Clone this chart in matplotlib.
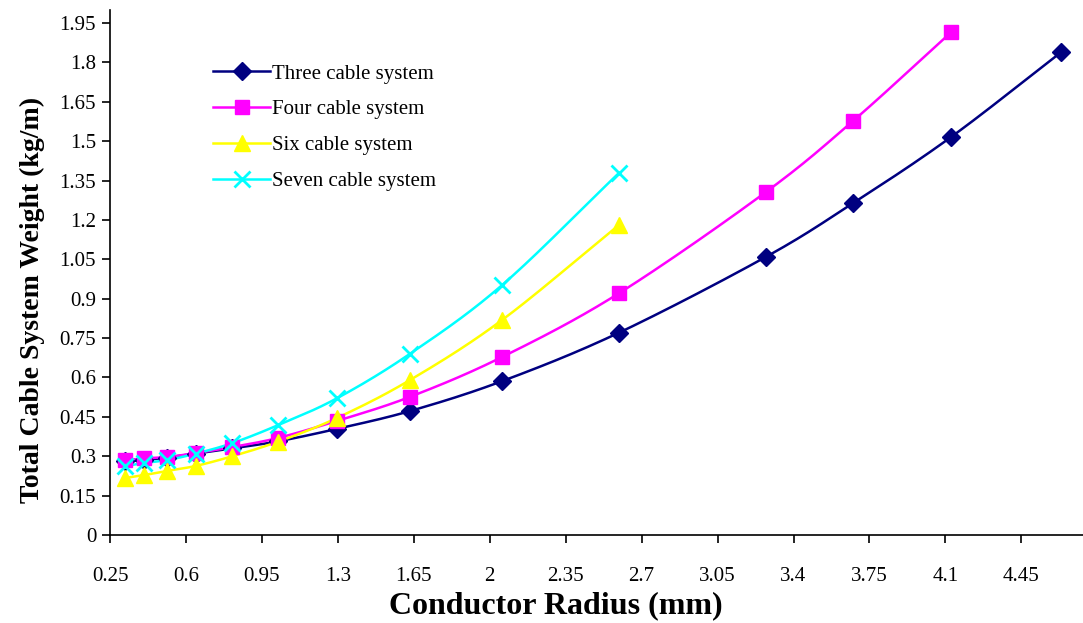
import numpy as np
import matplotlib
matplotlib.use("Agg")
import matplotlib.pyplot as plt

plt.rcParams["font.family"] = ["Liberation Serif", "DejaVu Serif"]

# conductor radius (mm)
RADIUS = [0.32, 0.406, 0.512, 0.645, 0.814, 1.026, 1.294, 1.632,
          2.057, 2.594, 3.272, 3.674, 4.126, 4.633]

# total cable system weight (kg/m)
THREE = [0.28, 0.285, 0.295, 0.31, 0.33, 0.357, 0.404, 0.472,
         0.586, 0.77, 1.059, 1.264, 1.516, 1.839]
FOUR = [0.285, 0.292, 0.297, 0.312, 0.335, 0.37, 0.434, 0.526,
        0.678, 0.92, 1.306, 1.577, 1.915]
SIX = [0.217, 0.228, 0.244, 0.263, 0.30, 0.356, 0.445, 0.59,
       0.819, 1.18]
SEVEN = [0.263, 0.274, 0.285, 0.31, 0.35, 0.419, 0.52, 0.69,
         0.952, 1.378]

SERIES = [
    ("Three cable system", THREE, "#000080", "D", 9),
    ("Four cable system", FOUR, "#FF00FF", "s", 10),
    ("Six cable system", SIX, "#FFFF00", "^", 11),
    ("Seven cable system", SEVEN, "#00FFFF", "x", 11),
]


def smooth(x, y, n=30):
    # Catmull-Rom style smoothing like spreadsheet "smoothed line"
    x = np.asarray(x, float)
    y = np.asarray(y, float)
    px = np.concatenate([[2 * x[0] - x[1]], x, [2 * x[-1] - x[-2]]])
    py = np.concatenate([[2 * y[0] - y[1]], y, [2 * y[-1] - y[-2]]])
    xs, ys = [], []
    t = np.linspace(0, 1, n)
    for i in range(1, len(px) - 2):
        p0, p1, p2, p3 = (np.array([px[j], py[j]]) for j in range(i - 1, i + 3))
        c1 = p1 + (p2 - p0) / 6.0
        c2 = p2 - (p3 - p1) / 6.0
        b = ((1 - t) ** 3)[:, None] * p1 + (3 * (1 - t) ** 2 * t)[:, None] * c1 \
            + (3 * (1 - t) * t ** 2)[:, None] * c2 + (t ** 3)[:, None] * p2
        xs.append(b[:, 0])
        ys.append(b[:, 1])
    return np.concatenate(xs), np.concatenate(ys)


fig = plt.figure(figsize=(10.83, 6.23), dpi=100)
ax = fig.add_axes([0.1016, 0.1413, 0.8984, 0.8427])

handles = []
for name, vals, color, marker, ms in SERIES:
    xr = RADIUS[:len(vals)]
    sx, sy = smooth(xr, vals)
    ax.plot(sx, sy, color=color, lw=1.8, zorder=2)
    ax.plot(xr, vals, linestyle="none", marker=marker, ms=ms, color=color,
            mec=color, mew=2 if marker == "x" else 1, zorder=3)
    h, = ax.plot([], [], color=color, lw=1.8, marker=marker, ms=ms,
                 mec=color, mew=2 if marker == "x" else 1, label=name)
    handles.append(h)

ax.set_xlim(0.25, 4.734)
ax.set_ylim(0, 2.0)
xt = np.round(np.arange(0.25, 4.5, 0.35), 2)
ax.set_xticks(xt)
ax.set_xticklabels([f"{v:g}" for v in xt], fontsize=15)
yt = np.round(np.arange(0, 1.96, 0.15), 2)
ax.set_yticks(yt)
ax.set_yticklabels([f"{v:g}" for v in yt], fontsize=15)
ax.tick_params(axis="x", direction="out", length=6, width=1.2, pad=17)
ax.tick_params(axis="y", direction="out", length=6, width=1.2, pad=4)

for side in ["top", "right"]:
    ax.spines[side].set_visible(False)
for side in ["left", "bottom"]:
    ax.spines[side].set_linewidth(1.2)

ax.set_xlabel("Conductor Radius (mm)", fontsize=23, fontweight="bold")
ax.xaxis.set_label_coords(0.458, -0.108)
ax.set_ylabel("Total Cable System Weight (kg/m)", fontsize=20, fontweight="bold")
ax.yaxis.set_label_coords(-0.067, 0.447)

ax.legend(handles=handles, loc="upper left",
          bbox_to_anchor=(213 / 1083, (623 - 64) / 623),
          bbox_transform=fig.transFigure,
          frameon=False, fontsize=15, handlelength=2.75, labelspacing=0.78,
          handletextpad=0.1, borderaxespad=0, borderpad=0)

fig.savefig("out.png", dpi=100)
